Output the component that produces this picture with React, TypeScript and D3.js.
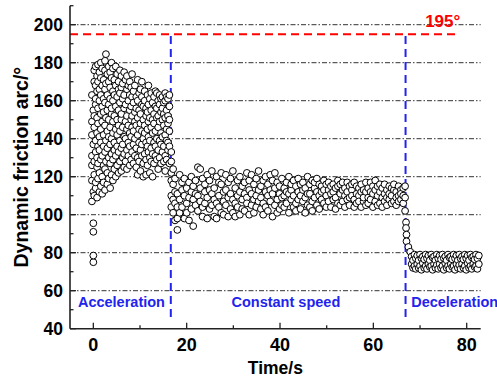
import React from "react";
import * as d3 from "d3";

// ---- data: each column = [time, ...friction values at that time] ----
const accelColumns: number[][] = [
  [-0.3, 107, 118, 126, 131, 142, 149, 163],
  [0.0, 75, 78.5, 91, 95.5, 112, 137, 155],
  [0.2, 110, 121, 128, 146, 152, 170, 176],
  [0.5, 114, 117, 133, 139, 158, 161, 168, 178],
  [0.8, 109, 125, 130, 143, 151, 165, 173],
  [1.0, 119, 127, 136, 148, 156, 170, 179],
  [1.3, 112, 122, 134, 141, 160, 166, 175],
  [1.6, 115, 129, 138, 145, 153, 163, 172, 180],
  [1.9, 111, 120, 131, 149, 157, 168, 177],
  [2.2, 117, 126, 136, 142, 154, 161, 171],
  [2.5, 113, 124, 133, 147, 159, 166, 176, 181],
  [2.7, 128, 139, 151, 169, 184.5],
  [3.0, 116, 122, 135, 144, 155, 163, 174],
  [3.3, 119, 130, 141, 150, 158, 170, 178],
  [3.6, 114, 127, 137, 146, 161, 167, 175],
  [3.9, 121, 132, 140, 153, 156, 172, 180],
  [4.2, 118, 129, 143, 149, 160, 165, 177],
  [4.5, 124, 134, 138, 152, 163, 171],
  [4.8, 120, 131, 145, 157, 168, 178],
  [5.1, 126, 136, 142, 150, 162, 174],
  [5.4, 122, 133, 147, 155, 166, 170],
  [5.7, 128, 139, 144, 159, 164, 176],
  [6.0, 123, 135, 150, 153, 167, 173],
  [6.3, 130, 137, 146, 161, 169],
  [6.6, 125, 132, 141, 156, 163, 175],
  [6.9, 128, 140, 149, 158, 171],
  [7.2, 124, 134, 145, 152, 166, 173],
  [7.5, 131, 138, 147, 160, 168],
  [7.8, 126, 136, 143, 155, 163, 170],
  [8.1, 129, 141, 150, 157, 167],
  [8.3, 133, 146, 152, 162, 174],
  [8.6, 127, 137, 144, 159, 165],
  [8.9, 131, 140, 149, 154, 168],
  [9.2, 125, 135, 147, 156, 162],
  [9.5, 121, 130, 142, 151, 160, 171],
  [9.8, 128, 138, 145, 155, 164],
  [10.1, 123, 134, 148, 153, 166],
  [10.4, 131, 137, 144, 158, 162, 170],
  [10.7, 120, 127, 140, 150, 157],
  [11.0, 132, 143, 147, 160, 165],
  [11.3, 121, 129, 138, 152, 156],
  [11.6, 126, 136, 145, 154, 163],
  [11.8, 133, 141, 149, 158, 168],
  [12.1, 122, 130, 139, 151, 161],
  [12.4, 128, 135, 146, 155, 164],
  [12.7, 120, 132, 143, 150, 159],
  [13.0, 127, 138, 148, 153, 162],
  [13.3, 131, 136, 144, 157, 165],
  [13.6, 129, 140, 151, 156, 164],
  [13.9, 124, 134, 146, 152, 160],
  [14.2, 130, 139, 149, 158, 163],
  [14.5, 127, 137, 143, 154, 161],
  [14.8, 133, 141, 150, 156, 162],
  [15.1, 128, 136, 147, 153, 159],
  [15.4, 123, 131, 142, 151, 160, 164],
  [15.7, 129, 139, 145, 155, 162],
  [16.0, 134, 138, 148, 152, 161],
  [16.3, 127, 136, 144, 150, 157, 163],
  [16.7, 133, 128, 122, 118, 110, 104],
  [17.1, 124, 116, 108, 101],
  [17.5, 119, 112, 106, 97],
  [18.0, 111, 104, 98, 92],
];

const cruiseColumns: number[][] = [
  [18.5, 121, 108, 101], [19.0, 113, 104, 117], [19.5, 110, 98, 119],
  [20.0, 106, 114, 101], [20.5, 117, 109, 97], [21.0, 103, 112, 120],
  [21.4, 94, 108, 115], [21.9, 118, 105, 111], [22.4, 125, 110, 102],
  [22.9, 124, 107, 114], [23.4, 119, 104, 99], [23.9, 112, 116, 106],
  [24.4, 98, 109, 121], [24.9, 113, 103, 118], [25.4, 105, 111, 123],
  [25.9, 99, 114, 108], [26.4, 98, 120, 106], [26.9, 110, 104, 117],
  [27.4, 116, 101, 122], [27.9, 107, 112, 100], [28.4, 121, 105, 113],
  [28.9, 99, 109, 117], [29.4, 111, 103, 119], [29.9, 123, 108, 101],
  [30.4, 114, 106, 99], [30.9, 104, 118, 110], [31.4, 120, 100, 112],
  [31.9, 108, 115, 103], [32.4, 117, 102, 111], [32.9, 122, 109, 106],
  [33.4, 113, 100, 118], [33.9, 105, 111, 121], [34.4, 116, 108, 101],
  [34.9, 110, 119, 104], [35.4, 123, 107, 113], [35.9, 103, 115, 109],
  [36.4, 118, 106, 100], [36.9, 112, 120, 104], [37.4, 102, 110, 116],
  [37.9, 121, 107, 113], [38.4, 99, 111, 118], [38.9, 122, 105, 114],
  [39.4, 108, 117, 101], [39.9, 115, 103, 111], [40.4, 119, 109, 105],
  [40.9, 104, 114, 110], [41.4, 117, 106, 112], [41.9, 101, 111, 120],
  [42.4, 113, 108, 116], [42.9, 118, 104, 110], [43.4, 106, 115, 102],
  [43.9, 112, 119, 108], [44.4, 103, 110, 116], [44.9, 117, 107, 113],
  [45.4, 109, 114, 101], [45.9, 120, 105, 111], [46.4, 111, 116, 104],
  [46.9, 107, 118, 102], [47.4, 114, 109, 117], [47.9, 105, 112, 119],
  [48.4, 116, 103, 110], [48.9, 108, 115, 112], [49.4, 118, 106, 113],
  [49.9, 110, 104, 116], [50.4, 113, 117, 107], [50.9, 104, 111, 115],
  [51.4, 116, 108, 112], [51.9, 109, 114, 103], [52.4, 115, 106, 118],
  [52.9, 111, 116, 105], [53.4, 107, 113, 117], [53.9, 114, 104, 110],
  [54.4, 117, 108, 112], [54.9, 105, 115, 109], [55.4, 113, 110, 116],
  [55.9, 108, 117, 104], [56.4, 115, 106, 111], [56.9, 110, 114, 107],
  [57.4, 116, 104, 112], [57.9, 107, 113, 109], [58.4, 112, 117, 105],
  [58.9, 109, 114, 106], [59.4, 117, 108, 112], [59.9, 104, 111, 115],
  [60.4, 113, 107, 118], [60.9, 110, 115, 105], [61.4, 106, 112, 116],
  [61.9, 114, 109, 104], [62.4, 111, 116, 107], [62.9, 105, 113, 109],
  [63.4, 115, 108, 111], [63.9, 110, 106, 114], [64.4, 107, 113, 116],
  [64.9, 112, 105, 109], [65.4, 115, 110, 107], [65.9, 108, 113, 111],
  [66.4, 114, 106, 110], [66.8, 115, 109, 102],
];

const decelColumns: number[][] = [
  [67.0, 96, 93], [67.1, 89.5, 86], [67.5, 83], [67.9, 80.5],
  [68.2, 78, 74], [68.5, 76, 72], [68.8, 79, 73], [69.1, 77, 71.5],
  [69.4, 78.5, 74], [69.7, 76, 72], [70.0, 79, 73], [70.3, 77, 71],
  [70.6, 78, 74.5], [70.9, 76.5, 72], [71.2, 79, 73], [71.5, 77, 71.5],
  [71.8, 78.5, 74], [72.1, 76, 72.5], [72.4, 79, 73], [72.7, 77.5, 71],
  [73.0, 78, 74], [73.3, 76, 72], [73.6, 79, 73.5], [73.9, 77, 71.5],
  [74.2, 78.5, 74], [74.5, 76.5, 72], [74.8, 79, 73], [75.1, 77, 71],
  [75.4, 78, 74.5], [75.7, 76, 72], [76.0, 79, 73], [76.3, 77.5, 71.5],
  [76.6, 78, 74], [76.9, 76.5, 72.5], [77.2, 79, 73], [77.5, 77, 71],
  [77.8, 78.5, 74], [78.1, 76, 72], [78.4, 79, 73.5], [78.7, 77, 71.5],
  [79.0, 78, 74], [79.3, 76.5, 72], [79.6, 79, 73], [79.9, 77, 71],
  [80.2, 78.5, 74.5], [80.5, 76, 72], [80.8, 79, 73], [81.1, 77.5, 71.5],
  [81.4, 78, 74], [81.7, 76.5, 72.5], [82.0, 79, 73], [82.3, 77, 71.5],
  [82.6, 78.5, 74],
];

const xMajorTicks = [0, 20, 40, 60, 80];
const xMinorTicks = [10, 30, 50, 70];
const yMajorTicks = [40, 60, 80, 100, 120, 140, 160, 180, 200];
const yMinorTicks = [50, 70, 90, 110, 130, 150, 170, 190, 210];
const gridValues = [60, 80, 100, 120, 140, 160, 180, 200];
const limitValue = 195;
const limitLabel = "195°";
const phaseBoundaries = [16.6, 66.9];
const phaseLabels = [
  { text: "Acceleration", t: -3.3 },
  { text: "Constant speed", t: 29.6 },
  { text: "Deceleration", t: 68.1 },
];
const xTitle = "Time/s";
const yTitle = "Dynamic friction arc/°";

export default function App() {
  const W = 497, H = 378;
  const x = d3.scaleLinear().domain([-5, 83]).range([70, 480.7]);
  const y = d3.scaleLinear().domain([40, 210]).range([328.7, 5.7]);
  const font = "'Liberation Sans', Arial, sans-serif";

  const points: [number, number][] = [];
  for (const cols of [accelColumns, cruiseColumns, decelColumns]) {
    for (const c of cols) {
      for (let i = 1; i < c.length; i++) points.push([c[0], c[i]]);
    }
  }

  const x0 = x.range()[0], x1 = x.range()[1];
  const yb = y.range()[0], yt = y.range()[1];

  return (
    <svg width={W} height={H} style={{ position: "absolute", left: 0, top: 0, background: "#fff" }}>
      {gridValues.map((v) => (
        <line key={"g" + v} x1={x0} x2={x1} y1={y(v)} y2={y(v)} stroke="#333" strokeWidth={1}
          strokeDasharray="5,2,1.5,2" />
      ))}
      <line x1={x0} x2={x(78.4)} y1={y(limitValue)} y2={y(limitValue)} stroke="#ff0000"
        strokeWidth={2} strokeDasharray="8,5" />
      <text x={x(71.1)} y={27} fill="#ff0000" fontFamily={font} fontWeight="bold" fontSize={17}>
        {limitLabel}
      </text>
      {phaseBoundaries.map((t) => (
        <line key={"b" + t} x1={x(t)} x2={x(t)} y1={y(194)} y2={y(44.5)} stroke="#2323ee"
          strokeWidth={2} strokeDasharray="8,5" />
      ))}
      {points.map((p, i) => (
        <circle key={i} cx={x(p[0])} cy={y(p[1])} r={3.4} fill="#fff" stroke="#000" strokeWidth={1} />
      ))}
      {phaseLabels.map((l) => (
        <text key={l.text} x={x(l.t)} y={307} fill="#2323ee" fontFamily={font} fontWeight="bold"
          fontSize={14.5}>{l.text}</text>
      ))}
      <line x1={x0} x2={x1} y1={yb} y2={yb} stroke="#222" strokeWidth={1.6} />
      <line x1={x0} x2={x0} y1={yb} y2={yt} stroke="#222" strokeWidth={1.6} />
      {xMajorTicks.map((t) => (
        <g key={"xm" + t}>
          <line x1={x(t)} x2={x(t)} y1={yb} y2={yb - 6} stroke="#222" strokeWidth={1.3} />
          <text x={x(t)} y={351} textAnchor="middle" fontFamily={font} fontWeight="bold" fontSize={18}>{t}</text>
        </g>
      ))}
      {xMinorTicks.map((t) => (
        <line key={"xn" + t} x1={x(t)} x2={x(t)} y1={yb} y2={yb - 3.5} stroke="#222" strokeWidth={1.3} />
      ))}
      {yMajorTicks.map((v) => (
        <g key={"ym" + v}>
          <line x1={x0} x2={x0 + 6} y1={y(v)} y2={y(v)} stroke="#222" strokeWidth={1.3} />
          <text x={63} y={y(v) + 6} textAnchor="end" fontFamily={font} fontWeight="bold" fontSize={17.5}>{v}</text>
        </g>
      ))}
      {yMinorTicks.map((v) => (
        <line key={"yn" + v} x1={x0} x2={x0 + 3.5} y1={y(v)} y2={y(v)} stroke="#222" strokeWidth={1.3} />
      ))}
      <text x={(x0 + x1) / 2} y={374} textAnchor="middle" fontFamily={font} fontWeight="bold" fontSize={17.5}>
        {xTitle}
      </text>
      <text transform={`translate(28,${(yb + yt) / 2}) rotate(-90)`} textAnchor="middle" fontFamily={font}
        fontWeight="bold" fontSize={19.5}>{yTitle}</text>
    </svg>
  );
}
